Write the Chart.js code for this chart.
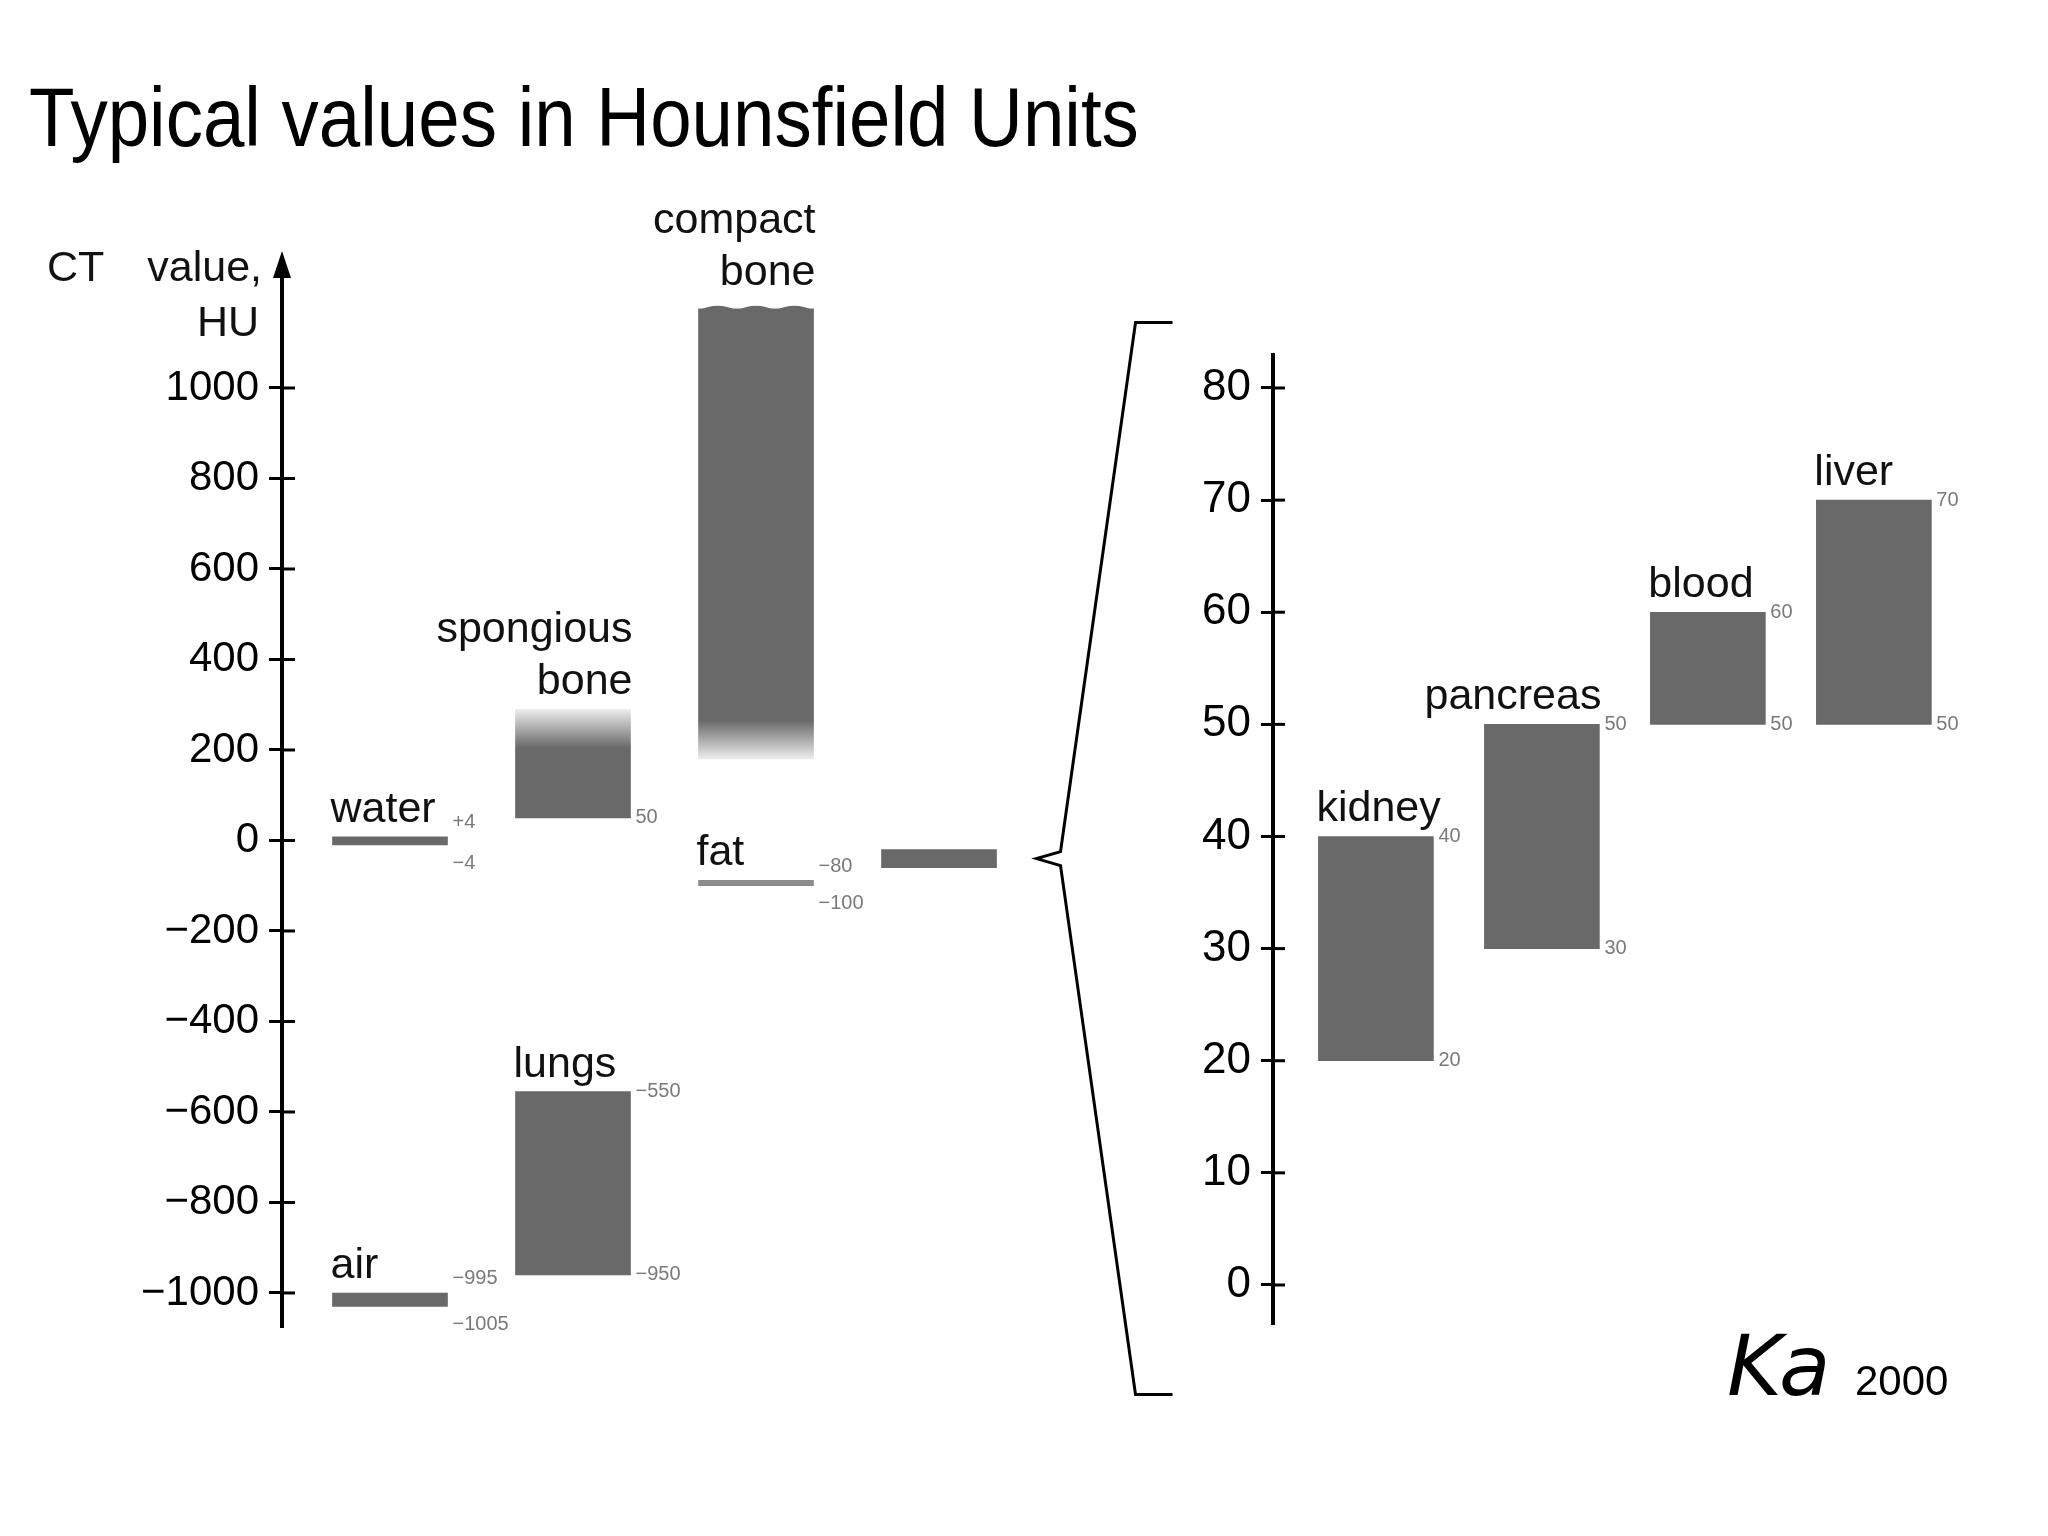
<!DOCTYPE html>
<html>
<head>
<meta charset="utf-8">
<title>Typical values in Hounsfield Units</title>
<script src="https://cdn.jsdelivr.net/npm/chart.js@4.4.1/dist/chart.umd.min.js"></script>
<style>
html, body { margin: 0; background: #fff; }
#wrap { position: relative; width: 2048px; height: 1536px; }
canvas { position: absolute; left: 0; top: 0; }
</style>
</head>
<body>
<div id="wrap">
  <canvas id="hu" width="2048" height="1536"></canvas>
  <canvas id="zoom" width="2048" height="1536"></canvas>
</div>
<script>
// --- data: overview in HU (one column holds an upper and a lower tissue) ---
const columns = ['water / air', 'spongious bone / lungs', 'compact bone / fat', 'soft tissue'];
const upperTissue = ['water', 'spongious bone', 'compact bone', ''];
const upperRange = [[-10, 8], [50, 290], [180, 1175], [-60, -20]];
const upperTags = [['+4', '\u22124'], ['', '50'], ['', ''], ['', '']];
const lowerTissue = ['air', 'lungs', 'fat'];
const lowerRange = [[-1030, -1000], [-960, -555], [-100, -88]];
const lowerTags = [['\u2212995', '\u22121005'], ['\u2212550', '\u2212950'], ['\u221280', '\u2212100']];
const huTicks = [-1000, -900, -800, -700, -600, -500, -400, -300, -200, -100, 0,
                 100, 200, 300, 400, 500, 600, 700, 800, 900, 1000];
const huLabelled = [-1000, -800, -600, -400, -200, 0, 200, 400, 600, 800, 1000];

// --- data: soft tissue close-up ---
const organs = ['kidney', 'pancreas', 'blood', 'liver'];
const organLow = [20, 30, 50, 50];
const organHigh = [40, 50, 60, 70];
const zoomTicks = [0, 10, 20, 30, 40, 50, 60, 70, 80];

// --- styles ---
const GREY = '#696969';
const FONT = '"Liberation Sans", Arial, sans-serif';
const rightAligned = ['spongious bone', 'compact bone', 'pancreas'];
const fmt = v => String(v).replace('-', '\u2212');

function barBox(el) {
  return {
    left: el.x - el.width / 2, right: el.x + el.width / 2,
    top: Math.min(el.y, el.base), bottom: Math.max(el.y, el.base)
  };
}

// tissue name above the bar, small range values at its right
function labelBar(c, el, name, tags) {
  const b = barBox(el);
  if (name) {
    c.font = '43px ' + FONT;
    c.fillStyle = '#111';
    c.textBaseline = 'alphabetic';
    const right = rightAligned.includes(name);
    const lines = right && name.includes(' ') ? name.split(' ') : [name];
    c.textAlign = right ? 'right' : 'left';
    const x = right ? b.right + 2 : b.left - 2;
    const gap = name === 'compact bone' ? 24 : 15;
    lines.slice().reverse().forEach((ln, i) => c.fillText(ln, x, b.top - gap - i * 52));
  }
  c.font = '20px ' + FONT;
  c.fillStyle = '#7a7a7a';
  c.textAlign = 'left';
  c.textBaseline = 'middle';
  const thin = b.bottom - b.top < 30;
  if (tags[0]) c.fillText(tags[0], b.right + 5, thin ? b.top - 14 : b.top);
  if (tags[1]) c.fillText(tags[1], b.right + 5, thin ? b.bottom + 18 : b.bottom);
}

// tick marks cross the axis: Chart.js draws the outer half, this the inner half
function innerTicks(chart, len) {
  const y = chart.scales.y, a = chart.chartArea, c = chart.ctx;
  c.save();
  c.strokeStyle = '#000';
  c.lineWidth = 3;
  y.ticks.forEach(t => {
    const p = y.getPixelForValue(t.value);
    c.beginPath(); c.moveTo(a.left, p); c.lineTo(a.left + len, p); c.stroke();
  });
  c.restore();
}

const huDecor = {
  id: 'huDecor',
  afterDraw(chart) {
    const c = chart.ctx, a = chart.chartArea;
    innerTicks(chart, 13);
    c.save();
    // axis arrow
    c.fillStyle = '#000';
    c.beginPath();
    c.moveTo(a.left, a.top - 25); c.lineTo(a.left - 9, a.top + 2); c.lineTo(a.left + 9, a.top + 2);
    c.closePath(); c.fill();
    // broken (wavy) top of the compact bone bar
    const cb = barBox(chart.getDatasetMeta(0).data[2]);
    const w = (cb.right - cb.left) / 3;
    c.fillStyle = GREY;
    c.beginPath();
    c.moveTo(cb.left, cb.top + 2);
    for (let k = 0; k < 3; k++) {
      c.quadraticCurveTo(cb.left + w * (k + 0.5), cb.top - 8, cb.left + w * (k + 1), cb.top + 2);
    }
    c.lineTo(cb.right, cb.top + 4); c.lineTo(cb.left, cb.top + 4);
    c.closePath(); c.fill();
    // title
    c.save();
    c.translate(29, 146);
    c.scale(0.887, 1);
    c.font = '84px ' + FONT;
    c.fillStyle = '#000';
    c.textAlign = 'left';
    c.textBaseline = 'alphabetic';
    c.fillText('Typical values in Hounsfield Units', 0, 0);
    c.restore();
    // axis title
    c.font = '43px ' + FONT;
    c.fillStyle = '#111';
    c.textAlign = 'left';
    c.fillText('CT', 47, 281);
    c.textAlign = 'right';
    c.fillText('value,', 262, 281);
    c.fillText('HU', 259, 336);
    // names and range values
    const up = chart.getDatasetMeta(0).data, lo = chart.getDatasetMeta(1).data;
    up.forEach((el, i) => labelBar(c, el, upperTissue[i], upperTags[i]));
    lo.forEach((el, i) => labelBar(c, el, lowerTissue[i], lowerTags[i]));
    c.restore();
  }
};

function fadeFill(ctx, from, to) {
  const chart = ctx.chart, y = chart.scales.y;
  if (!chart.chartArea || !y) return GREY;
  const g = chart.ctx.createLinearGradient(0, y.getPixelForValue(from), 0, y.getPixelForValue(to));
  g.addColorStop(0, 'rgba(105,105,105,0.12)');
  g.addColorStop(1, GREY);
  return g;
}

const huChart = new Chart(document.getElementById('hu'), {
  type: 'bar',
  data: {
    datasets: [
      {
        label: 'upper',
        data: upperRange.map((r, i) => ({ x: i, y: r })),
        grouped: false,
        barThickness: 115,
        backgroundColor: ctx => {
          if (ctx.dataIndex === 1) return fadeFill(ctx, 290, 205);
          if (ctx.dataIndex === 2) return fadeFill(ctx, 180, 265);
          return GREY;
        }
      },
      {
        label: 'lower',
        data: lowerRange.map((r, i) => ({ x: i, y: r })),
        grouped: false,
        barThickness: 115,
        backgroundColor: [GREY, GREY, '#8c8c8c']
      }
    ]
  },
  options: {
    responsive: false,
    animation: false,
    layout: { padding: { left: 0, top: 276, right: 988, bottom: 210 } },
    plugins: { legend: { display: false }, tooltip: { enabled: false } },
    scales: {
      x: { type: 'linear', display: false, offset: false, min: -0.59, max: 3.661 },
      y: {
        min: -1073, max: 1247.5,
        afterFit: s => { s.width = 282; },
        afterBuildTicks: s => { s.ticks = huTicks.map(v => ({ value: v })); },
        ticks: {
          padding: 10,
          color: '#000',
          font: { family: FONT, size: 42 },
          callback: v => huLabelled.includes(v) ? fmt(v) : ''
        },
        grid: { drawOnChartArea: false, drawTicks: true, tickLength: 13, color: '#000', lineWidth: 3 },
        border: { color: '#000', width: 4 }
      }
    }
  },
  plugins: [huDecor]
});

const zoomDecor = {
  id: 'zoomDecor',
  afterDraw(chart) {
    const c = chart.ctx;
    innerTicks(chart, 12);
    c.save();
    chart.getDatasetMeta(0).data.forEach((el, i) =>
      labelBar(c, el, organs[i], [String(organHigh[i]), String(organLow[i])]));
    // brace from the soft tissue bar to the close-up
    const soft = barBox(huChart.getDatasetMeta(0).data[3]);
    const tx = soft.right + 40, ty = (soft.top + soft.bottom) / 2, half = 536;
    c.strokeStyle = '#000';
    c.lineWidth = 3;
    c.lineJoin = 'miter';
    c.beginPath();
    c.moveTo(tx + 136, ty - half); c.lineTo(tx + 99, ty - half);
    c.lineTo(tx + 24, ty - 7); c.lineTo(tx, ty); c.lineTo(tx + 24, ty + 7);
    c.lineTo(tx + 99, ty + half); c.lineTo(tx + 136, ty + half);
    c.stroke();
    // signature
    c.fillStyle = '#000';
    c.textBaseline = 'alphabetic';
    c.textAlign = 'left';
    c.font = 'italic 84px "DejaVu Sans", sans-serif';
    c.fillText('Ka', 1727, 1395);
    c.font = '42px ' + FONT;
    c.fillText('2000', 1855, 1395);
    c.restore();
  }
};

new Chart(document.getElementById('zoom'), {
  type: 'bar',
  data: {
    datasets: [{
      label: 'soft tissue',
      data: organs.map((o, i) => ({ x: i, y: [organLow[i], organHigh[i]] })),
      barThickness: 115,
      backgroundColor: GREY
    }]
  },
  options: {
    responsive: false,
    animation: false,
    layout: { padding: { left: 1100, top: 355, right: 48, bottom: 213 } },
    plugins: { legend: { display: false }, tooltip: { enabled: false } },
    scales: {
      x: { type: 'linear', display: false, offset: false, min: -0.62, max: 3.76 },
      y: {
        min: -3.39, max: 82.94,
        afterFit: s => { s.width = 173; },
        afterBuildTicks: s => { s.ticks = zoomTicks.map(v => ({ value: v })); },
        ticks: { padding: 10, color: '#000', font: { family: FONT, size: 44 }, callback: v => fmt(v) },
        grid: { drawOnChartArea: false, drawTicks: true, tickLength: 12, color: '#000', lineWidth: 3 },
        border: { color: '#000', width: 4 }
      }
    }
  },
  plugins: [zoomDecor]
});
</script>
</body>
</html>
